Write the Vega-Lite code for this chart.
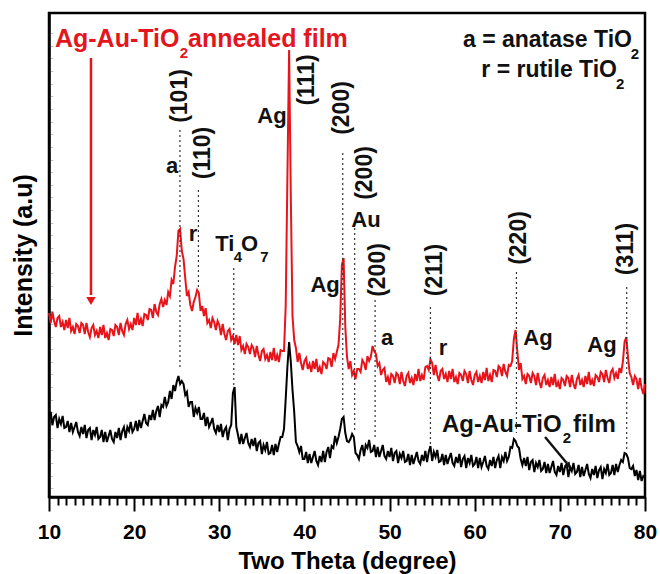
{
  "$schema": "https://vega.github.io/schema/vega-lite/v6.json",
  "width": 596,
  "height": 484,
  "autosize": {"type": "none"},
  "padding": {"left": 49, "top": 13, "right": 15, "bottom": 77},
  "background": "white",
  "config": {
    "view": {"stroke": "black", "strokeWidth": 2.5},
    "font": "Liberation Sans",
    "text": {"font": "Liberation Sans", "fontWeight": "bold"}
  },
  "datasets": {
    "xrd": [
      {"x":10.0,"r":184,"b":77},{"x":10.2,"r":174,"b":85},{"x":10.4,"r":185,"b":72},{"x":10.6,"r":176,"b":80},{"x":10.8,"r":170,"b":82},
      {"x":11.0,"r":179,"b":69},{"x":11.2,"r":181,"b":78},{"x":11.4,"r":170,"b":73},{"x":11.6,"r":175,"b":81},{"x":11.8,"r":167,"b":69},
      {"x":12.0,"r":177,"b":70},{"x":12.2,"r":169,"b":76},{"x":12.4,"r":179,"b":65},{"x":12.6,"r":166,"b":74},{"x":12.8,"r":170,"b":65},
      {"x":13.0,"r":163,"b":70},{"x":13.2,"r":173,"b":75},{"x":13.4,"r":171,"b":65},{"x":13.6,"r":164,"b":61},{"x":13.8,"r":174,"b":70},
      {"x":14.0,"r":172,"b":63},{"x":14.2,"r":163,"b":72},{"x":14.4,"r":174,"b":59},{"x":14.6,"r":165,"b":67},{"x":14.8,"r":160,"b":69},
      {"x":15.0,"r":169,"b":57},{"x":15.2,"r":172,"b":67},{"x":15.4,"r":162,"b":62},{"x":15.6,"r":166,"b":70},{"x":15.8,"r":159,"b":58},
      {"x":16.0,"r":170,"b":60},{"x":16.2,"r":162,"b":67},{"x":16.4,"r":172,"b":55},{"x":16.6,"r":159,"b":65},{"x":16.8,"r":164,"b":55},
      {"x":17.0,"r":157,"b":61},{"x":17.2,"r":168,"b":67},{"x":17.4,"r":167,"b":58},{"x":17.6,"r":161,"b":55},{"x":17.8,"r":172,"b":65},
      {"x":18.0,"r":170,"b":59},{"x":18.2,"r":162,"b":69},{"x":18.4,"r":174,"b":57},{"x":18.6,"r":166,"b":66},{"x":18.8,"r":162,"b":70},
      {"x":19.0,"r":173,"b":59},{"x":19.2,"r":177,"b":70},{"x":19.4,"r":168,"b":66},{"x":19.6,"r":173,"b":75},{"x":19.8,"r":167,"b":65},
      {"x":20.0,"r":179,"b":68},{"x":20.2,"r":172,"b":76},{"x":20.4,"r":184,"b":66},{"x":20.6,"r":172,"b":77},{"x":20.8,"r":178,"b":69},
      {"x":21.0,"r":171,"b":76},{"x":21.2,"r":183,"b":83},{"x":21.4,"r":182,"b":74},{"x":21.6,"r":177,"b":72},{"x":21.8,"r":188,"b":82},
      {"x":22.0,"r":187,"b":77},{"x":22.2,"r":179,"b":87},{"x":22.4,"r":193,"b":77},{"x":22.6,"r":185,"b":86},{"x":22.8,"r":182,"b":91},
      {"x":23.0,"r":193,"b":80},{"x":23.2,"r":198,"b":92},{"x":23.4,"r":190,"b":90},{"x":23.6,"r":197,"b":100},{"x":23.8,"r":192,"b":91},
      {"x":24.0,"r":205,"b":95},{"x":24.2,"r":201,"b":106},{"x":24.4,"r":217,"b":98},{"x":24.6,"r":213,"b":112},{"x":24.8,"r":230,"b":106},
      {"x":25.0,"r":241,"b":115},{"x":25.2,"r":266,"b":121},{"x":25.4,"r":268,"b":113},{"x":25.6,"r":246,"b":116},{"x":25.8,"r":238,"b":113},
      {"x":26.0,"r":219,"b":102},{"x":26.2,"r":201,"b":105},{"x":26.4,"r":205,"b":90},{"x":26.6,"r":192,"b":95},{"x":26.8,"r":186,"b":95},
      {"x":27.0,"r":195,"b":80},{"x":27.2,"r":200,"b":89},{"x":27.4,"r":207,"b":84},{"x":27.6,"r":204,"b":90},{"x":27.8,"r":186,"b":78},
      {"x":28.0,"r":191,"b":78},{"x":28.2,"r":181,"b":84},{"x":28.4,"r":189,"b":71},{"x":28.6,"r":174,"b":80},{"x":28.8,"r":177,"b":70},
      {"x":29.0,"r":169,"b":74},{"x":29.2,"r":179,"b":79},{"x":29.4,"r":175,"b":68},{"x":29.6,"r":167,"b":64},{"x":29.8,"r":176,"b":72},
      {"x":30.0,"r":172,"b":65},{"x":30.2,"r":162,"b":73},{"x":30.4,"r":173,"b":60},{"x":30.6,"r":163,"b":67},{"x":30.8,"r":157,"b":70},
      {"x":31.0,"r":166,"b":57},{"x":31.2,"r":168,"b":68},{"x":31.4,"r":157,"b":72},{"x":31.6,"r":161,"b":104},{"x":31.8,"r":153,"b":110},
      {"x":32.0,"r":162,"b":70},{"x":32.2,"r":152,"b":62},{"x":32.4,"r":161,"b":53},{"x":32.6,"r":147,"b":63},{"x":32.8,"r":151,"b":53},
      {"x":33.0,"r":143,"b":59},{"x":33.2,"r":153,"b":64},{"x":33.4,"r":150,"b":54},{"x":33.6,"r":143,"b":50},{"x":33.8,"r":152,"b":58},
      {"x":34.0,"r":149,"b":51},{"x":34.2,"r":140,"b":59},{"x":34.4,"r":151,"b":46},{"x":34.6,"r":142,"b":54},{"x":34.8,"r":136,"b":56},
      {"x":35.0,"r":146,"b":43},{"x":35.2,"r":148,"b":52},{"x":35.4,"r":138,"b":47},{"x":35.6,"r":142,"b":55},{"x":35.8,"r":135,"b":43},
      {"x":36.0,"r":145,"b":44},{"x":36.2,"r":137,"b":52},{"x":36.4,"r":149,"b":42},{"x":36.6,"r":136,"b":53},{"x":36.8,"r":142,"b":45},
      {"x":37.0,"r":135,"b":53},{"x":37.2,"r":147,"b":60},{"x":37.4,"r":146,"b":60},{"x":37.6,"r":146,"b":68},{"x":37.8,"r":191,"b":98},
      {"x":38.0,"r":320,"b":130},{"x":38.2,"r":447,"b":155},{"x":38.4,"r":300,"b":135},{"x":38.6,"r":181,"b":107},{"x":38.8,"r":157,"b":85},
      {"x":39.0,"r":149,"b":55},{"x":39.2,"r":135,"b":51},{"x":39.4,"r":144,"b":45},{"x":39.6,"r":134,"b":51},{"x":39.8,"r":127,"b":38},
      {"x":40.0,"r":136,"b":38},{"x":40.2,"r":139,"b":45},{"x":40.4,"r":128,"b":34},{"x":40.6,"r":133,"b":43},{"x":40.8,"r":125,"b":34},
      {"x":41.0,"r":136,"b":40},{"x":41.2,"r":128,"b":46},{"x":41.4,"r":138,"b":36},{"x":41.6,"r":125,"b":32},{"x":41.8,"r":130,"b":41},
      {"x":42.0,"r":123,"b":35},{"x":42.2,"r":135,"b":46},{"x":42.4,"r":133,"b":35},{"x":42.6,"r":128,"b":45},{"x":42.8,"r":139,"b":50},
      {"x":43.0,"r":138,"b":39},{"x":43.2,"r":130,"b":51},{"x":43.4,"r":144,"b":49},{"x":43.6,"r":138,"b":61},{"x":43.8,"r":145,"b":54},
      {"x":44.0,"r":152,"b":60},{"x":44.2,"r":178,"b":68},{"x":44.4,"r":232,"b":78},{"x":44.6,"r":239,"b":80},{"x":44.8,"r":170,"b":64},
      {"x":45.0,"r":140,"b":56},{"x":45.2,"r":128,"b":55},{"x":45.4,"r":136,"b":58},{"x":45.6,"r":122,"b":63},{"x":45.8,"r":126,"b":60},
      {"x":46.0,"r":118,"b":44},{"x":46.2,"r":128,"b":42},{"x":46.4,"r":128,"b":38},{"x":46.6,"r":125,"b":47},{"x":46.8,"r":137,"b":52},
      {"x":47.0,"r":134,"b":41},{"x":47.2,"r":127,"b":52},{"x":47.4,"r":141,"b":49},{"x":47.6,"r":136,"b":57},{"x":47.8,"r":140,"b":45},
      {"x":48.0,"r":151,"b":46},{"x":48.2,"r":146,"b":52},{"x":48.4,"r":143,"b":40},{"x":48.6,"r":131,"b":50},{"x":48.8,"r":134,"b":40},
      {"x":49.0,"r":122,"b":46},{"x":49.2,"r":127,"b":52},{"x":49.4,"r":129,"b":41},{"x":49.6,"r":115,"b":38},{"x":49.8,"r":120,"b":46},
      {"x":50.0,"r":112,"b":40},{"x":50.2,"r":123,"b":49},{"x":50.4,"r":121,"b":36},{"x":50.6,"r":114,"b":44},{"x":50.8,"r":124,"b":46},
      {"x":51.0,"r":122,"b":34},{"x":51.2,"r":113,"b":43},{"x":51.4,"r":125,"b":39},{"x":51.6,"r":116,"b":46},{"x":51.8,"r":111,"b":35},
      {"x":52.0,"r":121,"b":36},{"x":52.2,"r":124,"b":43},{"x":52.4,"r":114,"b":32},{"x":52.6,"r":119,"b":42},{"x":52.8,"r":112,"b":33},
      {"x":53.0,"r":123,"b":39},{"x":53.2,"r":116,"b":45},{"x":53.4,"r":128,"b":36},{"x":53.6,"r":116,"b":33},{"x":53.8,"r":122,"b":42},
      {"x":54.0,"r":117,"b":36},{"x":54.2,"r":130,"b":46},{"x":54.4,"r":131,"b":35},{"x":54.6,"r":127,"b":45},{"x":54.8,"r":138,"b":51},
      {"x":55.0,"r":134,"b":36},{"x":55.2,"r":122,"b":45},{"x":55.4,"r":132,"b":40},{"x":55.6,"r":122,"b":47},{"x":55.8,"r":116,"b":35},
      {"x":56.0,"r":126,"b":36},{"x":56.2,"r":128,"b":43},{"x":56.4,"r":118,"b":32},{"x":56.6,"r":123,"b":42},{"x":56.8,"r":115,"b":33},
      {"x":57.0,"r":126,"b":39},{"x":57.2,"r":118,"b":44},{"x":57.4,"r":128,"b":34},{"x":57.6,"r":115,"b":31},{"x":57.8,"r":120,"b":40},
      {"x":58.0,"r":113,"b":34},{"x":58.2,"r":124,"b":43},{"x":58.4,"r":122,"b":30},{"x":58.6,"r":116,"b":38},{"x":58.8,"r":126,"b":41},
      {"x":59.0,"r":123,"b":29},{"x":59.2,"r":114,"b":39},{"x":59.4,"r":126,"b":34},{"x":59.6,"r":117,"b":42},{"x":59.8,"r":112,"b":31},
      {"x":60.0,"r":122,"b":33},{"x":60.2,"r":125,"b":40},{"x":60.4,"r":115,"b":29},{"x":60.6,"r":121,"b":39},{"x":60.8,"r":114,"b":30},
      {"x":61.0,"r":125,"b":35},{"x":61.2,"r":117,"b":41},{"x":61.4,"r":129,"b":31},{"x":61.6,"r":116,"b":28},{"x":61.8,"r":122,"b":37},
      {"x":62.0,"r":115,"b":31},{"x":62.2,"r":127,"b":40},{"x":62.4,"r":126,"b":29},{"x":62.6,"r":120,"b":37},{"x":62.8,"r":131,"b":41},
      {"x":63.0,"r":129,"b":29},{"x":63.2,"r":121,"b":40},{"x":63.4,"r":133,"b":36},{"x":63.6,"r":125,"b":45},{"x":63.8,"r":121,"b":36},
      {"x":64.0,"r":132,"b":40},{"x":64.2,"r":131,"b":50},{"x":64.4,"r":136,"b":49},{"x":64.6,"r":158,"b":58},{"x":64.8,"r":167,"b":56},
      {"x":65.0,"r":146,"b":51},{"x":65.2,"r":127,"b":49},{"x":65.4,"r":134,"b":38},{"x":65.6,"r":118,"b":32},{"x":65.8,"r":121,"b":39},
      {"x":66.0,"r":113,"b":31},{"x":66.2,"r":123,"b":40},{"x":66.4,"r":121,"b":27},{"x":66.6,"r":114,"b":35},{"x":66.8,"r":124,"b":37},
      {"x":67.0,"r":121,"b":25},{"x":67.2,"r":112,"b":34},{"x":67.4,"r":124,"b":30},{"x":67.6,"r":115,"b":37},{"x":67.8,"r":109,"b":26},
      {"x":68.0,"r":119,"b":28},{"x":68.2,"r":122,"b":35},{"x":68.4,"r":112,"b":24},{"x":68.6,"r":117,"b":33},{"x":68.8,"r":110,"b":24},
      {"x":69.0,"r":120,"b":30},{"x":69.2,"r":112,"b":36},{"x":69.4,"r":123,"b":25},{"x":69.6,"r":110,"b":22},{"x":69.8,"r":115,"b":31},
      {"x":70.0,"r":108,"b":25},{"x":70.2,"r":119,"b":34},{"x":70.4,"r":117,"b":22},{"x":70.6,"r":111,"b":30},{"x":70.8,"r":121,"b":33},
      {"x":71.0,"r":119,"b":20},{"x":71.2,"r":110,"b":30},{"x":71.4,"r":122,"b":26},{"x":71.6,"r":113,"b":34},{"x":71.8,"r":108,"b":23},
      {"x":72.0,"r":118,"b":25},{"x":72.2,"r":122,"b":32},{"x":72.4,"r":112,"b":20},{"x":72.6,"r":117,"b":30},{"x":72.8,"r":110,"b":21},
      {"x":73.0,"r":121,"b":27},{"x":73.2,"r":113,"b":33},{"x":73.4,"r":125,"b":23},{"x":73.6,"r":112,"b":19},{"x":73.8,"r":117,"b":28},
      {"x":74.0,"r":111,"b":22},{"x":74.2,"r":122,"b":31},{"x":74.4,"r":120,"b":19},{"x":74.6,"r":115,"b":27},{"x":74.8,"r":125,"b":30},
      {"x":75.0,"r":123,"b":18},{"x":75.2,"r":115,"b":28},{"x":75.4,"r":127,"b":24},{"x":75.6,"r":119,"b":33},{"x":75.8,"r":114,"b":22},
      {"x":76.0,"r":125,"b":24},{"x":76.2,"r":128,"b":32},{"x":76.4,"r":119,"b":22},{"x":76.6,"r":124,"b":33},{"x":76.8,"r":118,"b":25},
      {"x":77.0,"r":129,"b":32},{"x":77.2,"r":124,"b":37},{"x":77.4,"r":135,"b":35},{"x":77.6,"r":155,"b":44},{"x":77.8,"r":160,"b":43},
      {"x":78.0,"r":140,"b":39},{"x":78.2,"r":124,"b":29},{"x":78.4,"r":120,"b":28},{"x":78.6,"r":112,"b":31},{"x":78.8,"r":121,"b":21},
      {"x":79.0,"r":118,"b":27},{"x":79.2,"r":108,"b":17},{"x":79.4,"r":119,"b":26},{"x":79.6,"r":109,"b":16},{"x":79.8,"r":103,"b":21},
      {"x":80.0,"r":113,"b":20}
    ],
    "guides": [
      {"x":25.38,"h":367,"h2":127},
      {"x":27.55,"h":307,"h2":207},
      {"x":31.7,"h":229,"h2":112},
      {"x":44.5,"h":344,"h2":84},
      {"x":45.9,"h":269,"h2":64},
      {"x":48.3,"h":197,"h2":60},
      {"x":54.8,"h":190,"h2":50},
      {"x":64.9,"h":225,"h2":64},
      {"x":77.85,"h":210,"h2":47}
    ],
    "rotated": [
      {"x":25.39,"h":401,"t":"(101)"},
      {"x":28.09,"h":344,"t":"(110)"},
      {"x":40.3,"h":417,"t":"(111)"},
      {"x":44.41,"h":389,"t":"(200)"},
      {"x":47.11,"h":324,"t":"(200)"},
      {"x":48.64,"h":227,"t":"(200)"},
      {"x":55.34,"h":227,"t":"(211)"},
      {"x":65.2,"h":259,"t":"(220)"},
      {"x":77.8,"h":248,"t":"(311)"}
    ],
    "labels": [
      {"x":24.45,"h":331,"t":"a"},
      {"x":26.91,"h":263,"t":"r"},
      {"x":36.19,"h":381,"t":"Ag"},
      {"x":42.42,"h":212,"t":"Ag"},
      {"x":47.23,"h":277,"t":"Au"},
      {"x":49.7,"h":159,"t":"a"},
      {"x":56.28,"h":149,"t":"r"},
      {"x":67.43,"h":159,"t":"Ag"},
      {"x":74.95,"h":152,"t":"Ag"},
      {"x":30.65,"h":253,"t":"Ti"},
      {"x":33.55,"h":253,"t":"O"}
    ],
    "subs": [
      {"x":32.2,"h":240,"t":"4"},
      {"x":35.3,"h":240,"t":"7"},
      {"x":70.84,"h":59,"t":"2"},
      {"x":78.83,"h":443,"t":"2"},
      {"x":77.07,"h":413,"t":"2"}
    ],
    "legend": [
      {"x":78.47,"h":450,"t":"a = anatase TiO"},
      {"x":76.71,"h":420,"t":"r = rutile TiO"}
    ],
    "film": [
      {"x":56.16,"h":65,"t":"Ag-Au-TiO"},
      {"x":71.55,"h":65,"t":"film"}
    ],
    "title": [
      {"x":10.7,"h":450,"t":"Ag-Au-TiO"},
      {"x":26.33,"h":450,"t":"annealed film"}
    ],
    "titlesub": [
      {"x":25.86,"h":444,"t":"2"}
    ],
    "redarrow": [
      {"x":14.93,"h":439,"h2":202}
    ],
    "redhead": [
      {"x":14.93,"h":196}
    ],
    "blackarrow": [
      {"x":68.26,"h":60,"x2":70.8,"h2":34}
    ],
    "blackhead": [
      {"x":70.96,"h":32}
    ]
  },
  "layer": [
    {
      "data": {"name": "xrd"},
      "mark": {"type": "line", "color": "black", "strokeWidth": 2},
      "encoding": {
        "x": {
          "field": "x", "type": "quantitative",
          "scale": {"domain": [10, 80], "nice": false, "zero": false},
          "axis": {
            "title": "Two Theta (degree)",
            "values": [10,11,12,13,14,15,16,17,18,19,20,21,22,23,24,25,26,27,28,29,30,31,32,33,34,35,36,37,38,39,40,41,42,43,44,45,46,47,48,49,50,51,52,53,54,55,56,57,58,59,60,61,62,63,64,65,66,67,68,69,70,71,72,73,74,75,76,77,78,79,80],
            "tickCount": 100,
            "format": "d",
            "labelExpr": "datum.value % 10 === 0 ? datum.label : ''",
            "labelOverlap": false,
            "labelFlush": false,
            "tickSize": {"condition": {"test": "datum.value % 10 === 0", "value": 14}, "value": 8},
            "tickWidth": 2,
            "tickColor": "black",
            "domainColor": "black",
            "domainWidth": 2.5,
            "grid": false,
            "labelFont": "Liberation Sans",
            "labelFontSize": 21,
            "labelFontWeight": "bold",
            "labelColor": "black",
            "labelPadding": 10,
            "titleFont": "Liberation Sans",
            "titleFontSize": 24,
            "titleFontWeight": "bold",
            "titleColor": "black",
            "titlePadding": 7
          }
        },
        "y": {
          "field": "b", "type": "quantitative",
          "scale": {"domain": [0, 484], "nice": false, "zero": false},
          "axis": {
            "title": "Intensity (a.u)",
            "values": [9,21,34,47,59,72,85,97,110,123,135,148,160,173,186,198,211,224,236,249,262,274,287,300,312,325,337,350,363,375,388,401,413,426,439,451,464],
            "tickCount": 100,
            "labels": false,
            "tickSize": -4,
            "tickColor": "#c4c4c4",
            "tickWidth": 1,
            "domainColor": "black",
            "domainWidth": 2.5,
            "grid": false,
            "titleFont": "Liberation Sans",
            "titleFontSize": 25,
            "titleFontWeight": "bold",
            "titleColor": "black",
            "titlePadding": 12
          }
        }
      }
    },
    {
      "data": {"name": "xrd"},
      "mark": {"type": "line", "color": "#e8141b", "strokeWidth": 2},
      "encoding": {
        "x": {"field": "x", "type": "quantitative"},
        "y": {"field": "r", "type": "quantitative"}
      }
    },
    {
      "data": {"name": "guides"},
      "mark": {"type": "rule", "color": "#333333", "strokeWidth": 1.2, "strokeDash": [2, 3]},
      "encoding": {
        "x": {"field": "x", "type": "quantitative"},
        "y": {"field": "h", "type": "quantitative"},
        "y2": {"field": "h2"}
      }
    },
    {
      "data": {"name": "rotated"},
      "mark": {"type": "text", "angle": 270, "fontSize": 23, "fontWeight": "bold", "color": "#111111", "align": "center", "baseline": "middle"},
      "encoding": {
        "x": {"field": "x", "type": "quantitative"},
        "y": {"field": "h", "type": "quantitative"},
        "text": {"field": "t"}
      }
    },
    {
      "data": {"name": "labels"},
      "mark": {"type": "text", "fontSize": 22, "fontWeight": "bold", "color": "#111111", "align": "center", "baseline": "middle"},
      "encoding": {
        "x": {"field": "x", "type": "quantitative"},
        "y": {"field": "h", "type": "quantitative"},
        "text": {"field": "t"}
      }
    },
    {
      "data": {"name": "subs"},
      "mark": {"type": "text", "fontSize": 15, "fontWeight": "bold", "color": "#111111", "align": "center", "baseline": "middle"},
      "encoding": {
        "x": {"field": "x", "type": "quantitative"},
        "y": {"field": "h", "type": "quantitative"},
        "text": {"field": "t"}
      }
    },
    {
      "data": {"name": "legend"},
      "mark": {"type": "text", "fontSize": 23, "fontWeight": "bold", "color": "#111111", "align": "right", "baseline": "alphabetic"},
      "encoding": {
        "x": {"field": "x", "type": "quantitative"},
        "y": {"field": "h", "type": "quantitative"},
        "text": {"field": "t"}
      }
    },
    {
      "data": {"name": "film"},
      "mark": {"type": "text", "fontSize": 24, "fontWeight": "bold", "color": "#111111", "align": "left", "baseline": "alphabetic"},
      "encoding": {
        "x": {"field": "x", "type": "quantitative"},
        "y": {"field": "h", "type": "quantitative"},
        "text": {"field": "t"}
      }
    },
    {
      "data": {"name": "title"},
      "mark": {"type": "text", "fontSize": 25, "fontWeight": "bold", "color": "#e3161e", "align": "left", "baseline": "alphabetic"},
      "encoding": {
        "x": {"field": "x", "type": "quantitative"},
        "y": {"field": "h", "type": "quantitative"},
        "text": {"field": "t"}
      }
    },
    {
      "data": {"name": "titlesub"},
      "mark": {"type": "text", "fontSize": 15, "fontWeight": "bold", "color": "#e3161e", "align": "center", "baseline": "middle"},
      "encoding": {
        "x": {"field": "x", "type": "quantitative"},
        "y": {"field": "h", "type": "quantitative"},
        "text": {"field": "t"}
      }
    },
    {
      "data": {"name": "redarrow"},
      "mark": {"type": "rule", "color": "#e8141b", "strokeWidth": 2.5},
      "encoding": {
        "x": {"field": "x", "type": "quantitative"},
        "y": {"field": "h", "type": "quantitative"},
        "y2": {"field": "h2"}
      }
    },
    {
      "data": {"name": "redhead"},
      "mark": {"type": "point", "shape": "triangle-down", "filled": true, "color": "#e8141b", "size": 90, "opacity": 1},
      "encoding": {
        "x": {"field": "x", "type": "quantitative"},
        "y": {"field": "h", "type": "quantitative"}
      }
    },
    {
      "data": {"name": "blackarrow"},
      "mark": {"type": "rule", "color": "#111111", "strokeWidth": 2.4},
      "encoding": {
        "x": {"field": "x", "type": "quantitative"},
        "y": {"field": "h", "type": "quantitative"},
        "x2": {"field": "x2"},
        "y2": {"field": "h2"}
      }
    },
    {
      "data": {"name": "blackhead"},
      "mark": {"type": "point", "shape": "triangle", "angle": 141, "filled": true, "color": "#111111", "size": 50, "opacity": 1},
      "encoding": {
        "x": {"field": "x", "type": "quantitative"},
        "y": {"field": "h", "type": "quantitative"}
      }
    }
  ]
}
